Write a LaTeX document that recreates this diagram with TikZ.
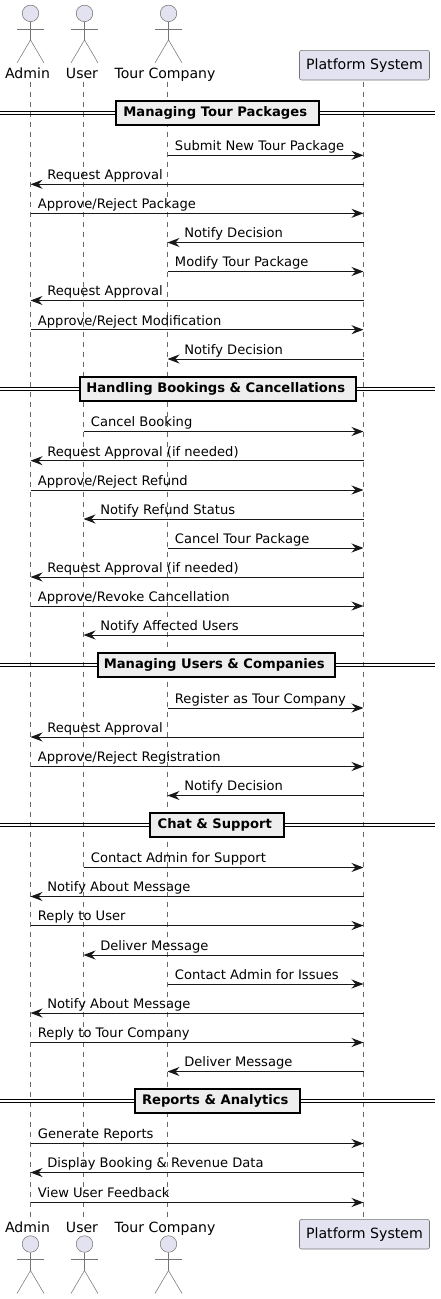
\documentclass[tikz,border=0pt]{standalone}
\usepackage{fontspec}
\setmainfont{DejaVu Sans}
\usetikzlibrary{arrows.meta}
\definecolor{lineC}{HTML}{181818}
\definecolor{partC}{HTML}{E2E2F0}
\definecolor{divC}{HTML}{EEEEEE}
\tikzset{
  lifeline/.style={draw=lineC!65,line width=0.4pt,dash pattern=on 3.75pt off 3.75pt},
  msgline/.style={draw=lineC,line width=0.75pt,-{Stealth[length=9pt,width=6.75pt,inset=3pt]}},
  msglabel/.style={inner sep=0pt,font=\fontsize{9.82}{12}\selectfont,text=black},
  actlabel/.style={inner sep=0pt,anchor=base,font=\fontsize{10.55}{12}\selectfont,text=black},
  partbox/.style={draw=lineC!60,line width=0.4pt,fill=partC,rounded corners=1.5pt,inner sep=0pt,minimum width=97.5pt,minimum height=22.2pt,font=\fontsize{10.6}{12}\selectfont,text=black},
  actorline/.style={draw=lineC!60,line width=0.4pt},
  actorhead/.style={circle,draw=lineC!60,line width=0.4pt,fill=partC,inner sep=0pt,minimum size=12.4pt},
  divbox/.style={draw=black,line width=1.5pt,fill=divC,inner sep=0pt,minimum height=18pt,font=\bfseries\fontsize{9.85}{12}\selectfont,text=black},
  divrule/.style={draw=black,line width=0.75pt}
}
\newcommand{\actorfig}[3]{% name, x head, y head
  \node[actorhead] (#1) at (#2,#3) {};
  \coordinate (#1hip) at (#2,#3+26.5);
  \coordinate (#1arml) at (#2-13.5,#3+15.7);
  \coordinate (#1armr) at (#2+13.5,#3+15.7);
  \coordinate (#1legl) at (#2-13.5,#3+49.5);
  \coordinate (#1legr) at (#2+13.5,#3+49.5);
  \draw[actorline] (#1.south) -- (#1hip);
  \draw[actorline] (#1arml) -- (#1armr);
  \draw[actorline] (#1legl) -- (#1hip) -- (#1legr);
}
\newcounter{mm}
\newcommand{\msgR}[4]{% from, to, y, label
  \stepcounter{mm}
  \coordinate (s\themm) at (#1 |- 0,#3);
  \coordinate (e\themm) at (#2 |- 0,#3);
  \draw[msgline] (s\themm) -- (e\themm);
  \node[msglabel,anchor=base west] (l\themm) at ([xshift=5.4pt,yshift=3.4pt]s\themm) {#4};
}
\newcommand{\msgL}[4]{% from, to, y, label
  \stepcounter{mm}
  \coordinate (s\themm) at (#1 |- 0,#3);
  \coordinate (e\themm) at (#2 |- 0,#3);
  \draw[msgline] (s\themm) -- (e\themm);
  \node[msglabel,anchor=base west] (l\themm) at ([xshift=12.4pt,yshift=3.4pt]e\themm) {#4};
}
\newcommand{\divider}[5]{% name, xleft, xright, y, label
  \coordinate (#1a) at (0,#4-1.6);
  \coordinate (#1b) at (435,#4-1.6);
  \coordinate (#1c) at (0,#4+1.6);
  \coordinate (#1d) at (435,#4+1.6);
  \draw[divrule] (#1a) -- (#1b);
  \draw[divrule] (#1c) -- (#1d);
  \node[divbox,minimum width=#3*0.75pt-#2*0.75pt] (#1) at ({(#2+#3)/2},#4) {\hspace*{-3.4pt}\raisebox{-0.7pt}{#5}};
}
\begin{document}
\begin{tikzpicture}[x=0.75pt,y=-0.75pt]
\useasboundingbox (0,0) rectangle (440,1299);
% lifeline anchors
\coordinate (adm) at (30.5,82);
\coordinate (usr) at (83.5,82);
\coordinate (com) at (167.5,82);
\coordinate (pla) at (363.5,82);
\coordinate (admb) at (30.5,1218);
\coordinate (usrb) at (83.5,1218);
\coordinate (comb) at (167.5,1218);
\coordinate (plab) at (363.5,1218);
\draw[lifeline] (adm) -- (admb);
\draw[lifeline] (usr) -- (usrb);
\draw[lifeline] (com) -- (comb);
\draw[lifeline] (pla) -- (plab);
% top participants
\actorfig{adminT}{30.5}{13.4}
\actorfig{userT}{84.5}{13.4}
\actorfig{compT}{168.5}{13.4}
\node[actlabel] (adminTl) at (27.5,78) {Admin};
\node[actlabel] (userTl) at (82,78) {User};
\node[actlabel] (compTl) at (165,78) {Tour Company};
\node[partbox] (platT) at (364.5,65.2) {\raisebox{-0.6pt}{Platform System}};
% bottom participants
\actorfig{adminB}{30.5}{1244}
\actorfig{userB}{84.5}{1244}
\actorfig{compB}{168.5}{1244}
\node[actlabel] (adminBl) at (27.5,1232) {Admin};
\node[actlabel] (userBl) at (82,1232) {User};
\node[actlabel] (compBl) at (165,1232) {Tour Company};
\node[partbox] (platB) at (364.5,1234.2) {\raisebox{-0.6pt}{Platform System}};
% section 1
\divider{d1}{116}{319}{112.7}{Managing Tour Packages}
\msgR{com}{pla}{155.3}{Submit New Tour Package}
\msgL{pla}{adm}{184.3}{Request Approval}
\msgR{adm}{pla}{213.3}{Approve/Reject Package}
\msgL{pla}{com}{242.5}{Notify Decision}
\msgR{com}{pla}{271.5}{Modify Tour Package}
\msgL{pla}{adm}{300.5}{Request Approval}
\msgR{adm}{pla}{329.7}{Approve/Reject Modification}
\msgL{pla}{com}{359}{Notify Decision}
% section 2
\divider{d2}{80}{356}{389.2}{Handling Bookings \& Cancellations}
\msgR{usr}{pla}{431.5}{Cancel Booking}
\msgL{pla}{adm}{460.7}{Request Approval (if needed)}
\msgR{adm}{pla}{490}{Approve/Reject Refund}
\msgL{pla}{usr}{519}{Notify Refund Status}
\msgR{com}{pla}{548}{Cancel Tour Package}
\msgL{pla}{adm}{577}{Request Approval (if needed)}
\msgR{adm}{pla}{606}{Approve/Revoke Cancellation}
\msgL{pla}{usr}{635}{Notify Affected Users}
% section 3
\divider{d3}{98}{335}{665}{Managing Users \& Companies}
\msgR{com}{pla}{708}{Register as Tour Company}
\msgL{pla}{adm}{737}{Request Approval}
\msgR{adm}{pla}{766.5}{Approve/Reject Registration}
\msgL{pla}{com}{795.5}{Notify Decision}
% section 4
\divider{d4}{150}{284}{825}{Chat \& Support}
\msgR{usr}{pla}{867.5}{Contact Admin for Support}
\msgL{pla}{adm}{896.5}{Notify About Message}
\msgR{adm}{pla}{925.5}{Reply to User}
\msgL{pla}{usr}{955}{Deliver Message}
\msgR{com}{pla}{984}{Contact Admin for Issues}
\msgL{pla}{adm}{1013}{Notify About Message}
\msgR{adm}{pla}{1042.5}{Reply to Tour Company}
\msgL{pla}{com}{1071.5}{Deliver Message}
% section 5
\divider{d5}{135}{300}{1101}{Reports \& Analytics}
\msgR{adm}{pla}{1143.5}{Generate Reports}
\msgL{pla}{adm}{1172.5}{Display Booking \& Revenue Data}
\msgR{adm}{pla}{1202.5}{View User Feedback}
\end{tikzpicture}
\end{document}
